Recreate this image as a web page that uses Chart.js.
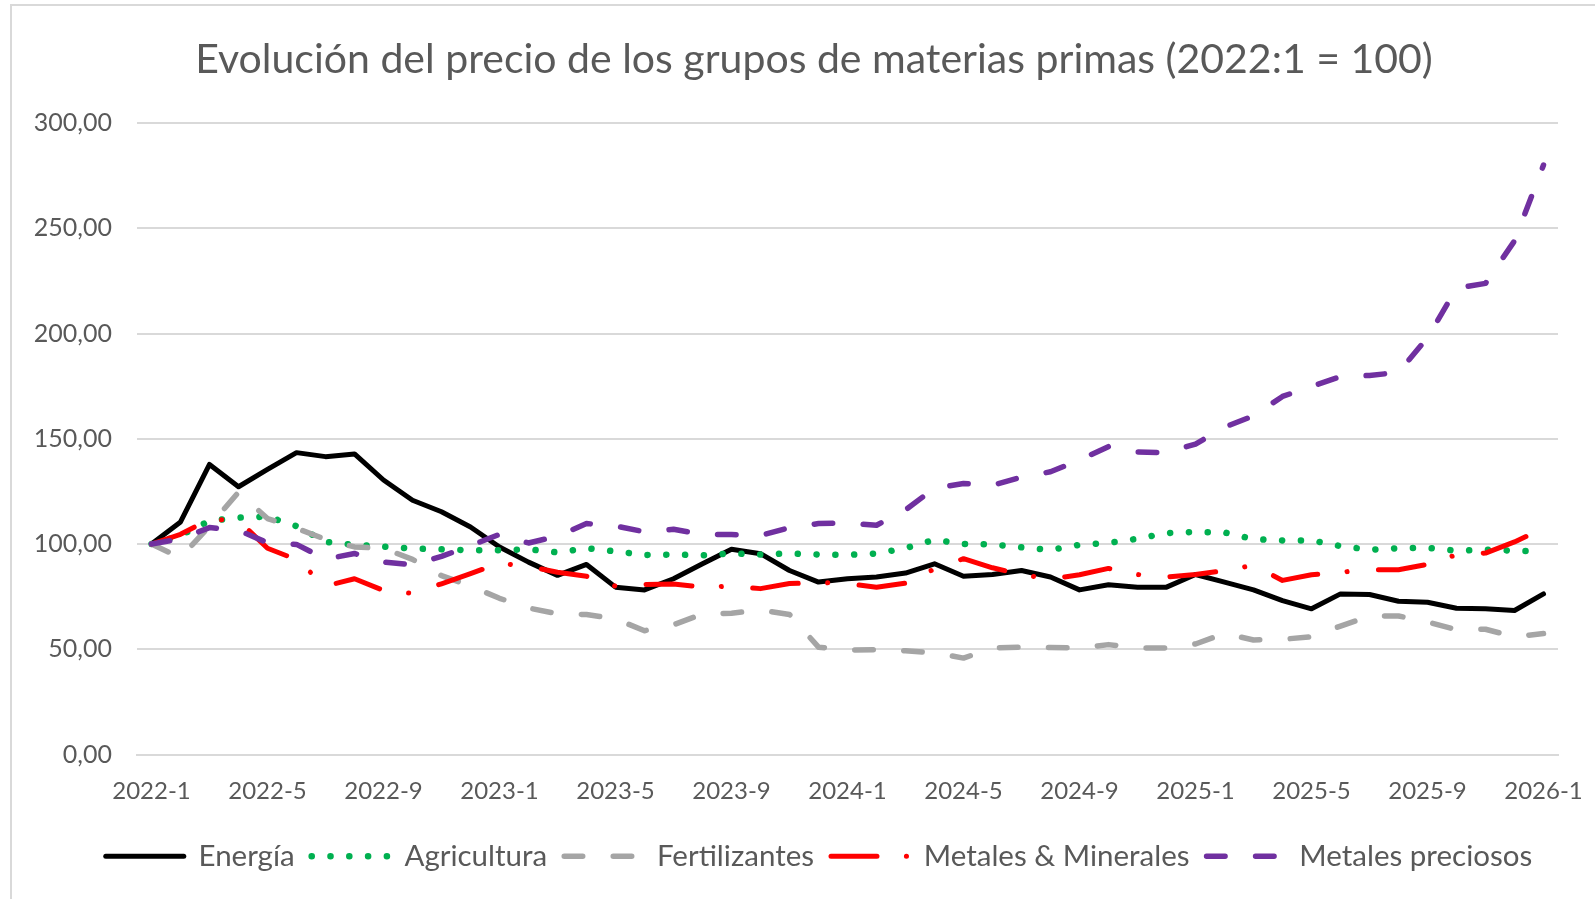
<!DOCTYPE html>
<html lang="es">
<head>
<meta charset="utf-8">
<title>Evolución del precio de los grupos de materias primas</title>
<script src="https://cdn.jsdelivr.net/npm/chart.js@4.4.1/dist/chart.umd.min.js"></script>
<style>
  html, body { margin: 0; padding: 0; background: #fff; }
  #wrap { width: 1595px; height: 899px; }
</style>
</head>
<body>
<div id="wrap"><canvas id="chart" width="1595" height="899"></canvas></div>
<script>
/* Monthly index, 2022:1 = 100 */
const months = [
  "2022-1","2022-2","2022-3","2022-4","2022-5","2022-6","2022-7","2022-8","2022-9","2022-10","2022-11","2022-12",
  "2023-1","2023-2","2023-3","2023-4","2023-5","2023-6","2023-7","2023-8","2023-9","2023-10","2023-11","2023-12",
  "2024-1","2024-2","2024-3","2024-4","2024-5","2024-6","2024-7","2024-8","2024-9","2024-10","2024-11","2024-12",
  "2025-1","2025-2","2025-3","2025-4","2025-5","2025-6","2025-7","2025-8","2025-9","2025-10","2025-11","2025-12",
  "2026-1"
];

const energia = [
  100, 110.5, 137.8, 127.2, 135.5, 143.4, 141.5, 142.8, 130.4, 120.8, 115.3, 108.1,
  98.6, 91.4, 85.1, 90.3, 79.5, 78.2, 83.5, 90.6, 97.5, 95.4, 87.4, 81.9,
  83.5, 84.3, 86.2, 90.6, 84.7, 85.5, 87.4, 84.3, 78.2, 80.6, 79.5, 79.5,
  85.5, 81.9, 78.2, 73.1, 69.2, 76.3, 76.0, 72.8, 72.3, 69.5, 69.2, 68.4,
  76.3
];
const agricultura = [
  100, 104, 111, 112.5, 113, 108.5, 101, 99.6, 98.8, 97.8, 97.5, 97,
  97, 97.5, 96, 98, 96.5, 94.8, 95, 94.6, 95.5, 95, 95.5, 95,
  94.8, 95.5, 98, 102, 100, 99.8, 98.4, 97.2, 99.6, 100.5, 102.5, 105.2,
  105.7, 105.5, 102.3, 101.7, 101.7, 99, 97.3, 98, 98.2, 96.8, 97.3, 96.8,
  96.5
];
const fertilizantes = [
  100, 93.5, 108.5, 124.6, 112.1, 107.5, 102.2, 98.6, 98, 92.7, 85, 80,
  74.2, 69.6, 66.8, 66.5, 64.4, 58.8, 61.6, 66.8, 67.1, 68.7, 66.5, 51,
  49.6, 49.8, 49.3, 48.3, 45.8, 50.6, 51, 50.8, 50.6, 52.2, 50.6, 50.6,
  52.5, 57.5, 54.4, 54.7, 56, 61, 65.8, 65.8, 63, 59.3, 59.5, 55.9,
  57.5
];
const metalesMinerales = [
  100, 104.6, 111.8, 111.1, 98, 92.6, 80, 83.5, 77.9, 76.6, 81.1, 85.9,
  90.9, 89.3, 86.6, 84.7, 80, 80.7, 81, 79.5, 80, 78.8, 81.2, 81.7,
  81.2, 79.5, 81.4, 88.2, 93, 88.7, 85.5, 83.3, 85.4, 88.4, 85.5, 84.3,
  85.5, 87.4, 89.9, 82.7, 85.4, 86.6, 87.8, 87.8, 90.3, 94.9, 95.7, 101,
  107.5
];
const metalesPreciosos = [
  100, 102.4, 107.8, 106.5, 100.6, 99.8, 92.8, 95.5, 91.4, 90.1, 94.1, 99.2,
  104.6, 100.5, 103.7, 109.7, 108.6, 105.8, 107, 104.6, 104.5, 104, 107.8, 109.7,
  110, 108.9, 116.2, 126.5, 128.7, 127.9, 131.8, 134.3, 139.9, 146.3, 143.7, 143.4,
  147.5, 155.5, 160.9, 170.1, 174.9, 179.5, 180.1, 181.5, 198, 221.5, 223.8, 244,
  280
];

const seriesNames = ["Energía", "Agricultura", "Fertilizantes", "Metales & Minerales", "Metales preciosos"];
const yTicks = [0, 50, 100, 150, 200, 250, 300];

const TEXT_COLOR = "#595959";
const GRID_COLOR = "#D9D9D9";
Chart.defaults.font.family = "Lato, 'Open Sans', sans-serif";

/* chart frame + title, drawn like the Excel chart area */
const frameAndTitle = {
  id: "frameAndTitle",
  afterLayout(chart) {
    // nudge the legend row so it sits where Excel centred it
    chart.legend.left += 30;
    chart.legend.right += 30;
  },
  beforeDraw(chart) {
    const ctx = chart.ctx;
    ctx.save();
    ctx.fillStyle = "#fff";
    ctx.fillRect(0, 0, chart.width, chart.height);
    ctx.strokeStyle = GRID_COLOR;
    ctx.lineWidth = 2;
    ctx.beginPath();
    ctx.moveTo(11, chart.height);
    ctx.lineTo(11, 5);
    ctx.lineTo(chart.width, 5);
    ctx.stroke();
    ctx.restore();
  },
  afterDraw(chart) {
    const ctx = chart.ctx;
    ctx.save();
    ctx.fillStyle = TEXT_COLOR;
    ctx.font = "41px Lato, 'Open Sans', sans-serif";
    ctx.textAlign = "center";
    ctx.textBaseline = "middle";
    ctx.fillText("Evolución del precio de los grupos de materias primas (2022:1 = 100)", 814, 60);
    ctx.restore();
  }
};

function lineSet(label, data, color, width, dash, order) {
  return {
    label: label,
    data: data,
    borderColor: color,
    backgroundColor: color,
    borderWidth: width,
    borderDash: dash,
    borderCapStyle: "round",
    borderJoinStyle: "round",
    pointRadius: 0,
    pointHoverRadius: 0,
    tension: 0,
    fill: false,
    order: order
  };
}

const ctx = document.getElementById("chart").getContext("2d");
new Chart(ctx, {
  type: "line",
  data: {
    labels: months,
    datasets: [
      lineSet(seriesNames[0], energia, "#000000", 5, [], 4),
      lineSet(seriesNames[1], agricultura, "#00B050", 6.5, [0.1, 18.7], 3),
      lineSet(seriesNames[2], fertilizantes, "#A5A5A5", 5.5, [18.5, 30.5], 2),
      lineSet(seriesNames[3], metalesMinerales, "#FF0000", 5, [46, 29.4, 0.1, 31.4], 1),
      lineSet(seriesNames[4], metalesPreciosos, "#7030A0", 5.5, [18.5, 30.5], 0)
    ]
  },
  options: {
    responsive: false,
    devicePixelRatio: 1,
    animation: false,
    events: [],
    layout: { padding: { left: 20, right: 37, top: 123, bottom: 18 } },
    scales: {
      x: {
        offset: true,
        grid: { display: false, drawTicks: false },
        border: { display: true, color: GRID_COLOR, width: 2 },
        ticks: {
          autoSkip: false,
          maxRotation: 0,
          minRotation: 0,
          padding: 4,
          color: TEXT_COLOR,
          font: { size: 24, lineHeight: 2.7 },
          callback: function(val, idx) {
            return idx % 4 === 0 ? this.getLabelForValue(val) : "";
          }
        },
        afterFit(scale) { scale.height = 70; }
      },
      y: {
        min: yTicks[0],
        max: yTicks[yTicks.length - 1],
        grid: { color: GRID_COLOR, lineWidth: 2, drawTicks: false },
        border: { display: false },
        afterBuildTicks(scale) { scale.ticks = yTicks.map(v => ({ value: v })); },
        ticks: {
          padding: 25,
          color: TEXT_COLOR,
          font: { size: 25 },
          callback: v => v.toFixed(2).replace(".", ",")
        },
        afterFit(scale) { scale.width = 117; }
      }
    },
    plugins: {
      title: { display: false },
      tooltip: { enabled: false },
      legend: {
        display: true,
        position: "bottom",
        labels: {
          usePointStyle: true,
          pointStyle: "line",
          pointStyleWidth: 78,
          padding: 17,
          color: TEXT_COLOR,
          font: { size: 29.5 },
          generateLabels(chart) {
            return chart.data.datasets.map((ds, i) => ({
              text: ds.label,
              fillStyle: ds.borderColor,
              strokeStyle: ds.borderColor,
              lineWidth: ds.borderWidth,
              lineDash: ds.borderDash,
              lineDashOffset: 0,
              lineCap: "round",
              lineJoin: "round",
              pointStyle: "line",
              fontColor: TEXT_COLOR,
              hidden: false,
              datasetIndex: i
            }));
          }
        }
      }
    }
  },
  plugins: [frameAndTitle]
});
</script>
</body>
</html>
